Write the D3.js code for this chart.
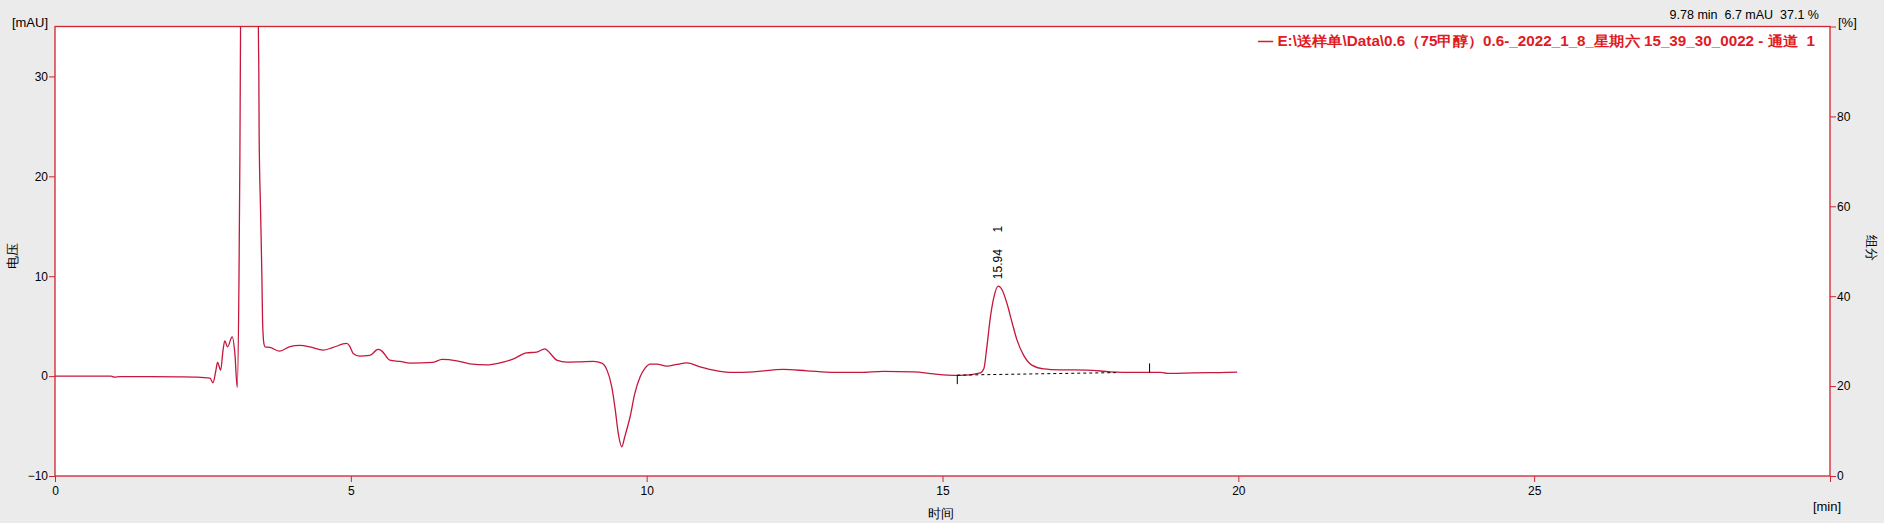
<!DOCTYPE html>
<html>
<head>
<meta charset="utf-8">
<script src="https://cdn.jsdelivr.net/npm/d3@7"></script>
<style>
  html, body { margin: 0; padding: 0; background: #ebebeb; }
  svg { display: block; }
  text { font-family: "Liberation Sans", Arial, sans-serif; fill: #000; }
</style>
</head>
<body>
<svg id="chart" width="1884" height="523"></svg>
<script>
// ---- data (time in min, signal in mAU) ----
const times = [0.00,0.50,0.95,1.00,1.10,1.60,2.10,2.40,2.62,2.67,2.72,2.747,2.80,2.84,2.87,2.916,2.995,3.04,3.08,3.11,3.125,3.14,3.20,3.30,3.40,3.43,3.44,3.445,3.45,3.474,3.497,3.508,3.53,3.55,3.63,3.80,3.97,4.14,4.31,4.53,4.70,4.93,4.98,5.04,5.15,5.32,5.46,5.52,5.66,5.83,6.00,6.39,6.54,6.79,7.01,7.30,7.52,7.75,7.97,8.14,8.28,8.37,8.48,8.65,8.88,9.10,9.24,9.33,9.41,9.47,9.52,9.58,9.63,9.72,9.80,9.89,9.97,10.06,10.17,10.34,10.51,10.68,10.90,11.19,11.47,11.81,12.31,12.71,13.16,13.61,14.00,14.51,14.85,15.08,15.30,15.64,15.70,15.75,15.81,15.87,15.94,16.01,16.09,16.18,16.26,16.37,16.51,16.71,16.99,17.44,17.84,18.23,18.69,18.80,19.25,19.81,19.98];
const signal = [0.00,0.00,0.00,-0.10,-0.05,-0.05,-0.07,-0.10,-0.20,-0.67,0.60,1.37,0.60,2.60,3.53,2.93,3.93,2.27,-1.13,10.0,22.0,40,120,200,100,40,33,30.6,24.3,16.6,9.9,5.6,3.27,2.93,2.87,2.50,2.95,3.07,2.93,2.60,2.87,3.27,3.00,2.27,2.00,2.07,2.67,2.53,1.60,1.47,1.30,1.37,1.67,1.53,1.23,1.13,1.33,1.73,2.33,2.40,2.73,2.27,1.60,1.40,1.43,1.47,1.30,0.60,-1.07,-3.40,-5.73,-7.07,-6.07,-4.07,-1.73,-0.07,0.77,1.20,1.20,1.00,1.17,1.33,0.93,0.53,0.37,0.43,0.67,0.53,0.37,0.37,0.47,0.43,0.23,0.10,0.07,0.33,0.77,2.93,5.93,7.93,9.00,8.60,7.27,5.27,3.60,2.10,1.10,0.73,0.63,0.60,0.43,0.37,0.37,0.27,0.33,0.37,0.40];

const xTicks = [0, 5, 10, 15, 20, 25, 30];
const xTickLabels = ["0", "5", "10", "15", "20", "25", ""];
const yTicks = [-10, 0, 10, 20, 30];
const rightTicks = [0, 20, 40, 60, 80, 100];
const rightTickLabels = ["0", "20", "40", "60", "80", ""];

// integrated peak
const peakTime = 15.94;
const peakHeight = 9.0;
const peakLabel = "15.94";
const peakNumber = "1";
const peakStart = [15.25, 0.10];
const peakEnd = [17.93, 0.35];
const peakMarkerEnd = [18.50, 0.37];

const legendText = "— E:\\送样单\\Data\\0.6（75甲醇）0.6-_2022_1_8_星期六 15_39_30_0022 - 通道  1";
const readoutText = "9.78 min  6.7 mAU  37.1 %";

// ---- layout ----
const L = 55, R = 1830, T = 26.5, B = 476;
const frameColor = "#d2232f";
const traceColor = "#c5163c";

const svg = d3.select("#chart");
svg.append("rect").attr("x", 0).attr("y", 0).attr("width", 1884).attr("height", 523).attr("fill", "#ebebeb");
svg.append("rect").attr("x", L).attr("y", T).attr("width", R - L).attr("height", B - T).attr("fill", "#fff");

const x = d3.scaleLinear().domain([0, 30]).range([L, R]);
const y = d3.scaleLinear().domain([-10, 35]).range([B, T]);
const yR = d3.scaleLinear().domain([0, 100]).range([B, T]);

// clip for trace
svg.append("clipPath").attr("id", "plotclip")
  .append("rect").attr("x", L).attr("y", T).attr("width", R - L).attr("height", B - T);

// axes
function styleAxis(g) {
  g.select(".domain").remove();
  g.selectAll(".tick line").attr("stroke", frameColor).attr("stroke-width", 1);
  g.selectAll(".tick text").attr("font-size", 12).attr("font-family", "Liberation Sans, Arial, sans-serif").attr("fill", "#000");
}

svg.append("g").attr("transform", `translate(0,${B})`)
  .call(d3.axisBottom(x).tickValues(xTicks).tickSize(6).tickPadding(4)
    .tickFormat((d, i) => xTickLabels[i]))
  .call(styleAxis);

svg.append("g").attr("transform", `translate(${L},0)`)
  .call(d3.axisLeft(y).tickValues(yTicks).tickSize(6).tickPadding(1).tickFormat(d3.format("d")))
  .call(styleAxis);

svg.append("g").attr("transform", `translate(${R},0)`)
  .call(d3.axisRight(yR).tickValues(rightTicks).tickSize(6).tickPadding(1)
    .tickFormat((d, i) => rightTickLabels[i]))
  .call(styleAxis);

// frame
svg.append("rect").attr("x", L).attr("y", T).attr("width", R - L).attr("height", B - T)
  .attr("fill", "none").attr("stroke", frameColor).attr("stroke-width", 1.3);

// axis unit labels
svg.append("text").attr("x", 48).attr("y", 27).attr("text-anchor", "end").attr("font-size", 13).text("[mAU]");
svg.append("text").attr("x", 1838).attr("y", 27).attr("font-size", 13).text("[%]");
svg.append("text").attr("x", 1827).attr("y", 511).attr("text-anchor", "middle").attr("font-size", 13).text("[min]");
svg.append("text").attr("x", 941).attr("y", 518).attr("text-anchor", "middle")
  .attr("font-size", 13).attr("font-family", "Noto Sans CJK SC").text("时间");
svg.append("text").attr("transform", "translate(17,256) rotate(-90)").attr("text-anchor", "middle")
  .attr("font-size", 13).attr("font-family", "Noto Sans CJK SC").text("电压");
svg.append("text").attr("transform", "translate(1867,248) rotate(90)").attr("text-anchor", "middle")
  .attr("font-size", 13).attr("font-family", "Noto Sans CJK SC").text("组分");

// readout
svg.append("text").attr("x", 1819).attr("y", 19).attr("text-anchor", "end")
  .attr("font-size", 12.5).style("white-space", "pre").text(readoutText);

// legend
svg.append("text").attr("x", 1815).attr("y", 46).attr("text-anchor", "end")
  .attr("font-size", 14).attr("font-weight", "bold").attr("font-family", "Noto Sans CJK SC")
  .attr("textLength", 557).attr("lengthAdjust", "spacingAndGlyphs")
  .style("fill", "#e01b24").style("white-space", "pre").text(legendText);

// trace
const pts = times.map((t, i) => [t, signal[i]]);
const line = d3.line().x(d => x(d[0])).y(d => y(d[1])).curve(d3.curveMonotoneX);
svg.append("g").attr("clip-path", "url(#plotclip)")
  .append("path").datum(pts).attr("d", line)
  .attr("fill", "none").attr("stroke", traceColor).attr("stroke-width", 1.3);

// peak baseline (dashed)
svg.append("line")
  .attr("x1", x(peakStart[0])).attr("y1", y(peakStart[1]))
  .attr("x2", x(peakEnd[0])).attr("y2", y(peakEnd[1]))
  .attr("stroke", "#000").attr("stroke-width", 1).attr("stroke-dasharray", "3,3");

// peak start/end markers
svg.append("line").attr("x1", x(peakStart[0])).attr("x2", x(peakStart[0]))
  .attr("y1", y(peakStart[1])).attr("y2", y(peakStart[1]) + 9).attr("stroke", "#000");
svg.append("line").attr("x1", x(peakMarkerEnd[0])).attr("x2", x(peakMarkerEnd[0]))
  .attr("y1", y(peakMarkerEnd[1]) - 9).attr("y2", y(peakMarkerEnd[1])).attr("stroke", "#000");

// peak labels
const px = x(peakTime) + 4, py = y(peakHeight) - 7;
svg.append("text").attr("transform", `translate(${px},${py}) rotate(-90)`)
  .attr("font-size", 12).text(peakLabel);
svg.append("text").attr("transform", `translate(${px},${py - 50}) rotate(-90)`)
  .attr("font-size", 12).attr("text-anchor", "middle").text(peakNumber);
</script>
</body>
</html>
